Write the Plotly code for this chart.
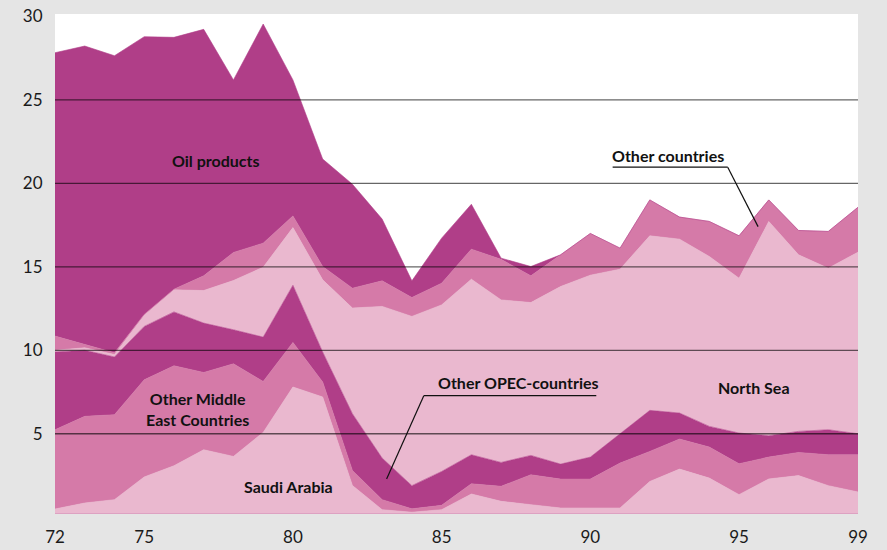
import plotly.graph_objects as go

# years 1972-1999
years = list(range(1972, 2000))
tick_vals = [1972, 1975, 1980, 1985, 1990, 1995, 1999]
tick_text = ["72", "75", "80", "85", "90", "95", "99"]

saudi_arabia = [0.49, 0.85, 1.05, 2.41, 3.08, 4.04, 3.64, 5.08, 7.80, 7.20,
                1.90, 0.45, 0.30, 0.45, 1.39, 0.95, 0.75, 0.55, 0.55, 0.55,
                2.14, 2.88, 2.34, 1.35, 2.29, 2.49, 1.89, 1.51]
other_opec = [4.75, 5.19, 5.09, 5.82, 5.99, 4.63, 5.55, 3.05, 2.67, 0.90,
              0.90, 0.60, 0.20, 0.26, 0.61, 0.90, 1.79, 1.73, 1.73, 2.69,
              1.80, 1.80, 1.86, 1.85, 1.31, 1.39, 1.85, 2.23]
other_middle_east = [4.66, 3.96, 3.46, 3.20, 3.23, 2.96, 2.04, 2.66, 3.43, 1.80,
                     3.40, 2.49, 1.39, 2.03, 1.74, 1.43, 1.16, 0.90, 1.32, 1.76,
                     2.46, 1.56, 1.24, 1.84, 1.28, 1.26, 1.50, 1.26]
north_sea = [0.10, 0.15, 0.15, 0.67, 1.32, 1.95, 2.95, 4.19, 3.45, 4.32,
             6.33, 9.09, 10.14, 9.98, 10.52, 9.74, 9.16, 10.64, 10.90, 9.86,
             10.46, 10.42, 10.18, 9.28, 12.84, 10.58, 9.68, 10.88]
other_countries = [0.85, 0.20, 0.10, 0.05, 0.04, 0.88, 1.68, 1.44, 0.70, 0.80,
                   1.19, 1.53, 1.13, 1.30, 1.80, 2.43, 1.60, 1.90, 2.50, 1.26,
                   2.15, 1.32, 2.10, 2.54, 1.29, 1.46, 2.20, 2.69]
oil_products = [16.98, 17.88, 17.80, 16.64, 15.09, 14.77, 10.34, 13.13, 8.15, 6.44,
                6.23, 3.70, 1.00, 2.70, 2.69, 0.07, 0.56, 0.0, 0.0, 0.0,
                0.0, 0.0, 0.0, 0.0, 0.0, 0.0, 0.0, 0.0]

DARK = "#B03E88"
MID = "#D57AA8"
LIGHT = "#EAB8CF"

series = [
    ("Saudi Arabia", saudi_arabia, LIGHT),
    ("Other OPEC-countries", other_opec, MID),
    ("Other Middle East Countries", other_middle_east, DARK),
    ("North Sea", north_sea, LIGHT),
    ("Other countries", other_countries, MID),
    ("Oil products", oil_products, DARK),
]

fig = go.Figure()
for name, vals, col in series:
    fig.add_trace(go.Scatter(
        x=years, y=vals, name=name, mode="lines",
        stackgroup="imports", line=dict(width=0.6, color=col),
        fillcolor=col, hoverinfo="x+y+name"))

# grid lines drawn over the areas
for v in [5, 10, 15, 20, 25]:
    fig.add_shape(type="line", xref="paper", yref="y", x0=0, x1=1, y0=v, y1=v,
                  line=dict(color="rgba(0,0,0,0.6)", width=1.3), layer="above")

lab = dict(family="Lato", size=16, color="#111111")

def note(text, x, y, **kw):
    fig.add_annotation(x=x, y=y, xref="x", yref="y", text="<b>" + text + "</b>",
                       showarrow=False, font=lab, **kw)

note("Oil products", 1977.4, 21.4)
note("Other countries", 1992.6, 21.7)
note("Other OPEC-countries", 1987.58, 8.05)
note("North Sea", 1995.5, 7.75)
note("Other Middle<br>East Countries", 1976.8, 6.5)
note("Saudi Arabia", 1979.85, 1.81)

# leader lines
leader = dict(color="#111111", width=1.2)
fig.add_shape(type="line", x0=1990.75, x1=1994.62, y0=20.97, y1=20.97, line=leader)
fig.add_shape(type="line", x0=1994.62, x1=1995.64, y0=20.97, y1=17.41, line=leader)
fig.add_shape(type="line", x0=1984.40, x1=1990.2, y0=7.28, y1=7.28, line=leader)
fig.add_shape(type="line", x0=1984.40, x1=1983.15, y0=7.28, y1=2.29, line=leader)

fig.update_layout(
    width=887, height=550,
    margin=dict(l=55, r=29, t=14, b=37),
    paper_bgcolor="#E5E5E5", plot_bgcolor="white",
    showlegend=False,
    font=dict(family="Lato", size=17, color="#1a1a1a"),
)
fig.update_xaxes(range=[1972, 1999], tickvals=tick_vals, ticktext=tick_text,
                 showgrid=False, zeroline=False, ticks="outside", ticklen=9,
                 tickcolor="rgba(0,0,0,0)", showline=True, linecolor="#DDA2C2",
                 linewidth=1, automargin=False)
fig.update_yaxes(range=[0.25, 30.15], tickvals=[5, 10, 15, 20, 25, 30],
                 showgrid=False, zeroline=False, ticks="outside", ticklen=8,
                 tickcolor="rgba(0,0,0,0)", automargin=False)

# page body has a default margin; drop it so the figure fills the window
fig.write_html("out.html", config={"displayModeBar": False},
               post_script="document.body.style.margin='0';")
